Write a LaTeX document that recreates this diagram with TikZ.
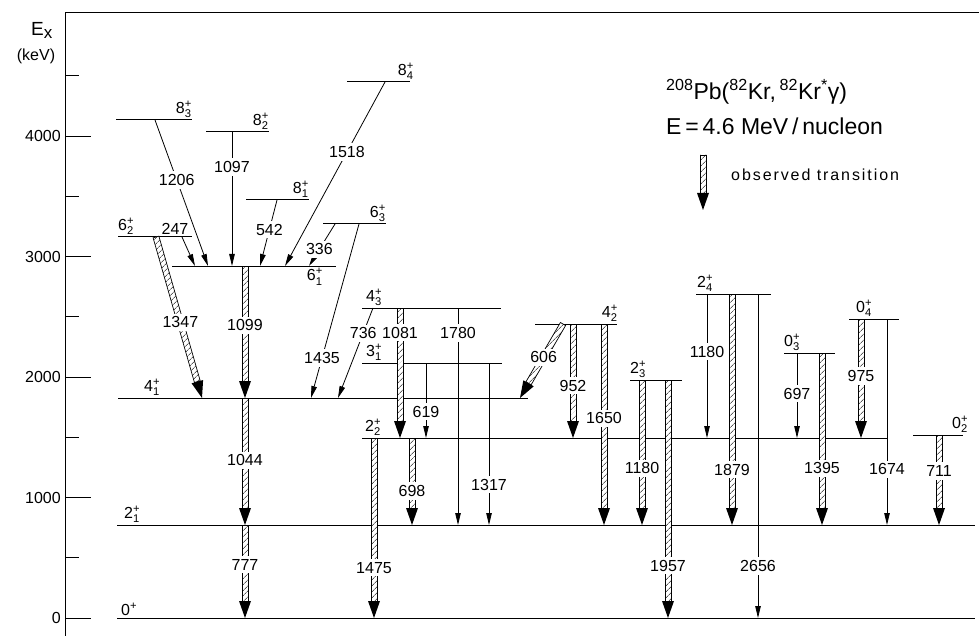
\documentclass[tikz,border=0pt]{standalone}
\usepackage{amsmath}
\usepackage{fontspec}
\setmainfont{Liberation Sans}
\usetikzlibrary{arrows.meta, calc, patterns.meta}

\newcommand{\fs}{\fontsize{16}{18}\selectfont}
\newcommand{\titlefs}{\fontsize{23}{26}\selectfont}
\newcommand{\lv}[2]{#1$^{\text{+}}_{\text{#2}}$}
% hatched bar with black head, and with its energy label
\newcommand{\obsarrow}[2]{%
  \path #1 coordinate (s) #2 coordinate (e);
  \coordinate (h) at ($(e)!17pt!(s)$);
  \draw[hatch] ($(s)!3pt!90:(e)$) -- ($(h)!3pt!90:(e)$) -- ($(h)!3pt!-90:(e)$) -- ($(s)!3pt!-90:(e)$) -- cycle;
  \fill ($(h)!6pt!90:(e)$) -- (e) -- ($(h)!6pt!-90:(e)$) -- cycle;}
\newcommand{\obs}[4]{\obsarrow{#1}{#2}\path #1 -- node[lab, pos=#4] (g#3) {#3} #2;}

\begin{document}
\begin{tikzpicture}[x=1pt, y=-1pt,
    level/.style={line width=1pt},
    trans/.style={line width=0.8pt, -{Triangle[length=12pt, width=5.5pt]}},
    lab/.style={fill=white, inner xsep=1pt, inner ysep=3pt, font=\fs},
    lvlab/.style={inner sep=1pt, font=\fs},
    hatch/.style={line width=0.7pt, preaction={fill=white},
                  pattern={Lines[angle=45, distance=4pt, line width=0.6pt]}}
  ]
    \useasboundingbox (0,0) rectangle (979,636);
    % axis
    \draw[line width=1pt] (65,636) -- (65,13) -- (979,13);
    \foreach \E/\y in {0/618, 1000/497.5, 2000/377, 3000/256.5, 4000/136} {
      \draw[line width=0.8pt] (65,\y) -- (91,\y);
      \node[anchor=east, inner sep=0pt, font=\fs] (t\E) at (61,\y) {\E};
    }
    \foreach \y in {557.7, 437, 316.5, 196, 75.5}
      \draw[line width=0.8pt] (65,\y) -- (79,\y);
    \node[font=\fontsize{19}{22}\selectfont] (ex) at (42,30) {E\textsubscript{\fontsize{17}{20}\selectfont x}};
    \node[font=\fs] (kev) at (36,56) {(keV)};

    % levels
    \foreach \n/\a/\b/\y in {l0/117/975/618, l21/117/975/525, l41/118/528/398,
        l22/362/888/438, l02/913/963/435, l23/630/682/380, l31/362/502/363,
        l03/784/835/353, l43/362/501/308, l42/535/617/324, l04/849/899/319,
        l24/696/771/294, l61/172/336/266, l62/118/192/237, l63/323/386/224,
        l81/246/309/200, l82/206/269/132, l83/116/192/120, l84/347/410/82} {
      \coordinate (\n) at (0,\y);
      \draw[level] (\a,\y) -- (\b,\y);
    }
    \node[lvlab, anchor=south west] (n0) at (120,617) {0$^{\text{+}}$};
    \node[lvlab, anchor=south west] (n21) at (123,524) {\lv{2}{1}};
    \node[lvlab, anchor=south west] (n41) at (143,397) {\lv{4}{1}};
    \node[lvlab, anchor=south west] (n22) at (364,437) {\lv{2}{2}};
    \node[lvlab, anchor=south west] (n02) at (951,434) {\lv{0}{2}};
    \node[lvlab, anchor=south west] (n23) at (629,379) {\lv{2}{3}};
    \node[lvlab, anchor=south west] (n31) at (365,362) {\lv{3}{1}};
    \node[lvlab, anchor=south west] (n03) at (783,352) {\lv{0}{3}};
    \node[lvlab, anchor=south west] (n43) at (365,307) {\lv{4}{3}};
    \node[lvlab, anchor=south east] (n42) at (619,323) {\lv{4}{2}};
    \node[lvlab, anchor=south west] (n04) at (855,318) {\lv{0}{4}};
    \node[lvlab, anchor=south west] (n24) at (696,293) {\lv{2}{4}};
    \node[lvlab, anchor=north east] (n61) at (324,267) {\lv{6}{1}};
    \node[lvlab, anchor=south west] (n62) at (117,236) {\lv{6}{2}};
    \node[lvlab, anchor=south east] (n63) at (387,223) {\lv{6}{3}};
    \node[lvlab, anchor=south east] (n81) at (310,199) {\lv{8}{1}};
    \node[lvlab, anchor=south east] (n82) at (270,131) {\lv{8}{2}};
    \node[lvlab, anchor=south east] (n83) at (193,119) {\lv{8}{3}};
    \node[lvlab, anchor=south east] (n84) at (415,81) {\lv{8}{4}};

    % transitions
    \draw[trans] (155,0 |- l83) -- node[lab, pos=.41] (g1206) {1206} (208,0 |- l61);
    \draw[trans] (232,0 |- l82) -- node[lab, pos=.26] (g1097) {1097} (232,0 |- l61);
    \draw[trans] (277,0 |- l81) -- node[lab, pos=.45] (g542) {542} (260,0 |- l61);
    \draw[trans] (385,0 |- l84) -- node[lab, pos=.38] (g1518) {1518} (285,0 |- l61);
    \draw[trans] (335,0 |- l63) -- node[lab, pos=.6] (g336) {336} (309,0 |- l61);
    \draw[trans] (182,0 |- l62) -- (195,0 |- l61);
    \node[font=\fs, inner sep=0pt] (g247) at (175,229) {247};
    \draw[trans] (359,0 |- l63) -- node[lab, pos=.77] (g1435) {1435} (311,0 |- l41);
    \draw[trans] (373,0 |- l43) -- node[lab, pos=.28] (g736) {736} (338,0 |- l41);
    \draw[trans] (458,0 |- l43) -- node[lab, pos=.115] (g1780) {1780} (458,0 |- l21);
    \draw[trans] (426,0 |- l31) -- node[lab, pos=.65] (g619) {619} (426,0 |- l22);
    \draw[trans] (489,0 |- l31) -- node[lab, pos=.75] (g1317) {1317} (489,0 |- l21);
    \draw[trans] (707,0 |- l24) -- node[lab, pos=.4] (g1180b) {1180} (707,0 |- l22);
    \draw[trans] (758,0 |- l24) -- node[lab, pos=.84] (g2656) {2656} (758,0 |- l0);
    \draw[trans] (797,0 |- l03) -- node[lab, pos=.48] (g697) {697} (797,0 |- l22);
    \draw[trans] (887,0 |- l04) -- node[lab, pos=.73] (g1674) {1674} (887,0 |- l21);

    \obs{(156,0 |- l62)}{(202,0 |- l41)}{1347}{.53}
    \obs{(245,0 |- l61)}{(245,0 |- l41)}{1099}{.45}
    \obs{(245,0 |- l41)}{(245,0 |- l21)}{1044}{.49}
    \obs{(245,0 |- l21)}{(245,0 |- l0)}{777}{.43}
    \obs{(400,0 |- l43)}{(400,0 |- l22)}{1081}{.19}
    \obs{(412,0 |- l22)}{(412,0 |- l21)}{698}{.61}
    \obs{(374,0 |- l22)}{(374,0 |- l0)}{1475}{.72}
    \obs{(563,0 |- l42)}{(520,0 |- l41)}{606}{.45}
    \obs{(573,0 |- l42)}{(573,0 |- l22)}{952}{.54}
    \obs{(604,0 |- l42)}{(604,0 |- l21)}{1650}{.47}
    \obs{(642,0 |- l23)}{(642,0 |- l21)}{1180}{.61}
    \obs{(668,0 |- l23)}{(668,0 |- l0)}{1957}{.78}
    \obs{(732,0 |- l24)}{(732,0 |- l21)}{1879}{.76}
    \obs{(822,0 |- l03)}{(822,0 |- l21)}{1395}{.67}
    \obs{(861,0 |- l04)}{(861,0 |- l22)}{975}{.48}
    \obs{(939,0 |- l02)}{(939,0 |- l21)}{711}{.4}

    % reaction and legend
    \node[anchor=west, font=\titlefs, inner sep=0pt] (react) at (666,92)
      {\textsuperscript{208}Pb(\textsuperscript{82}Kr,\,\textsuperscript{82}Kr\textsuperscript{*}γ)};
    \node[anchor=west, font=\titlefs, inner sep=0pt] (energy) at (666,126) {E\,=\,4.6 MeV\,/\,nucleon};
    \obsarrow{(703,155)}{(703,210)}
    \node[anchor=west, font=\fs, inner sep=0pt] (legtxt) at (731,175)
      {\addfontfeatures{LetterSpace=12}observed transition};
\end{tikzpicture}
\end{document}
